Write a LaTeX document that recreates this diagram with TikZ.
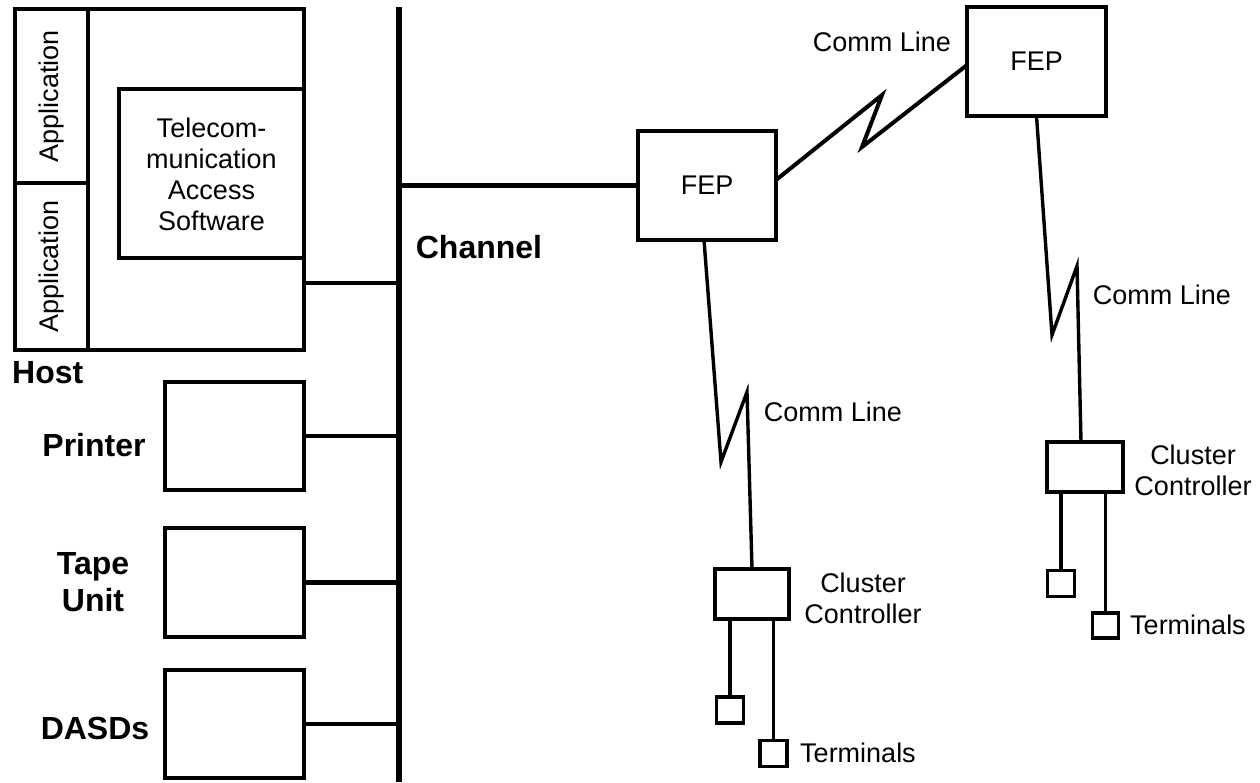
\documentclass[tikz,border=0pt]{standalone}
\usepackage{fontspec}
\setmainfont{Liberation Sans}
\begin{document}
\begin{tikzpicture}[x=1pt,y=-1pt,
  box/.style={draw,line width=3.2pt,rectangle,inner sep=0pt,outer sep=0pt},
  lbl/.style={font=\fontsize{27}{31}\selectfont,inner sep=0pt,align=center},
  blbl/.style={font=\fontsize{32}{37}\selectfont\bfseries,inner sep=0pt,align=center},
  bus/.style={line width=5.5pt},
  link/.style={line width=4.8pt},
  wire/.style={line width=3.4pt,line join=miter},
  term/.style={box,minimum width=27pt,minimum height=26pt}]
\useasboundingbox (0,0) rectangle (1260,782);
% Host
\node[box,minimum width=289pt,minimum height=341pt] (host) at (159.5,179.5) {};
\node[box,minimum width=73pt,minimum height=174pt] (app1) at (51.5,96) {};
\node[box,minimum width=73pt,minimum height=167pt] (app2) at (51.5,266.5) {};
\node[lbl,rotate=90] (app1t) at (51.5,96) {Application};
\node[lbl,rotate=90] (app2t) at (51.5,266.5) {Application};
\node[box,minimum width=185pt,minimum height=169pt] (tcas) at (211.5,173.5) {};
\node[lbl] (tcast) at (211.5,174) {Telecom-\\munication\\Access\\Software};
\node[blbl,anchor=west] (hostl) at (12,373) {Host};
% Devices
\node[box,minimum width=139pt,minimum height=108pt] (printer) at (234.5,436) {};
\node[box,minimum width=139pt,minimum height=109pt] (tape) at (234.5,582.5) {};
\node[box,minimum width=139pt,minimum height=108pt] (dasd) at (234.5,724) {};
\node[blbl] (printerl) at (94,445) {Printer};
\node[blbl] (tapel) at (93,582) {Tape\\Unit};
\node[blbl] (dasdl) at (95,728) {DASDs};
% Channel
\coordinate (chtop) at (399,7);
\coordinate (chbot) at (399,782);
\draw[bus] (chtop) -- (chbot);
\node[blbl] (chl) at (479,247) {Channel};
\draw[link] ([yshift=-103.5pt]host.east) -- ([yshift=-103.5pt]host.east -| chtop);
\draw[link] (printer.east) -- (printer.east -| chtop);
\draw[link] (tape.east) -- (tape.east -| chtop);
\draw[link] (dasd.east) -- (dasd.east -| chtop);
% FEPs
\node[box,minimum width=138pt,minimum height=109pt,lbl] (fep1) at (707,185.5) {FEP};
\node[box,minimum width=139pt,minimum height=109pt,lbl] (fep2) at (1036.5,61.5) {FEP};
\draw[link] (fep1.west -| chtop) -- (fep1.west);
\draw[wire,line width=4pt] ([yshift=5.5pt]fep1.east) -- (882,95) -- (862,147) -- ([yshift=-3.5pt]fep2.west);
\node[lbl] (cl1) at (882,42) {Comm Line};
% Cluster controller 1
\node[box,minimum width=74pt,minimum height=50pt] (cc1) at (752,594) {};
\draw[wire] ([xshift=-3pt]fep1.south) -- (721,462) -- (747,392) -- (cc1.north);
\node[lbl] (cl2) at (833,412) {Comm Line};
\node[lbl] (cc1l) at (863,598) {Cluster\\Controller};
\node[term] (t1a) at (730,710) {};
\node[term] (t1b) at (773.5,753.5) {};
\draw[wire] (t1a.north |- cc1.south) -- (t1a.north);
\draw[wire] (t1b.north |- cc1.south) -- (t1b.north);
\node[lbl,anchor=west] (t1l) at (800,753) {Terminals};
% Cluster controller 2
\node[box,minimum width=76pt,minimum height=50pt] (cc2) at (1085,467) {};
\draw[wire] (fep2.south) -- (1052,335) -- (1077,266) -- ([xshift=-4pt]cc2.north);
\node[lbl] (cl3) at (1162,295) {Comm Line};
\node[lbl] (cc2l) at (1193,470) {Cluster\\Controller};
\node[term] (t2a) at (1061,583.5) {};
\node[term,minimum width=26pt,minimum height=25pt] (t2b) at (1105.5,625.5) {};
\draw[wire] (t2a.north |- cc2.south) -- (t2a.north);
\draw[wire] (t2b.north |- cc2.south) -- (t2b.north);
\node[lbl,anchor=west] (t2l) at (1130,625) {Terminals};
\end{tikzpicture}
\end{document}
